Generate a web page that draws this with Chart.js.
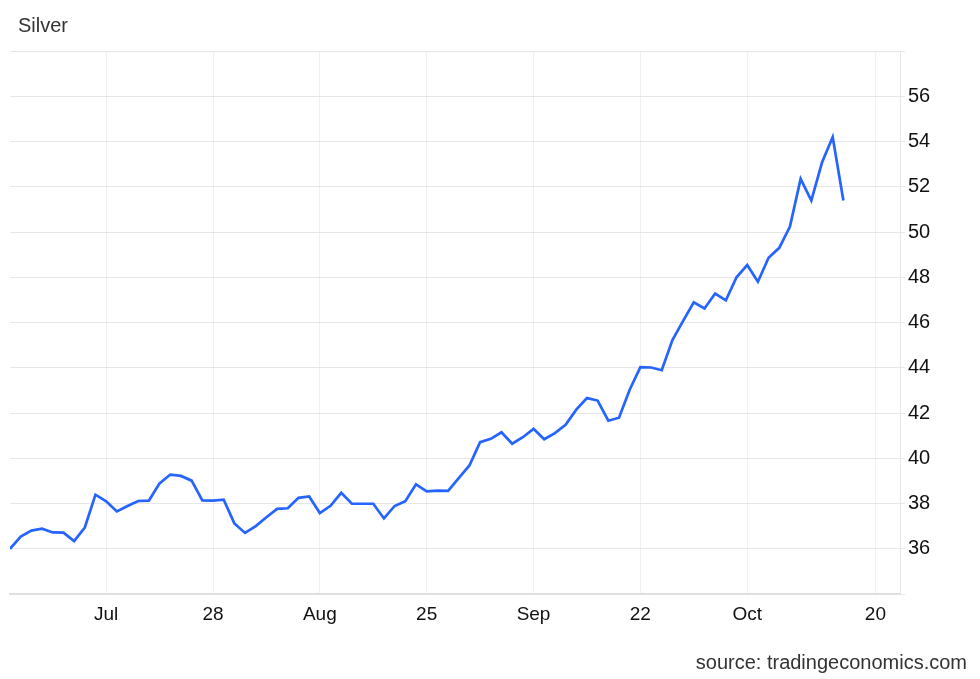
<!DOCTYPE html>
<html>
<head>
<meta charset="utf-8">
<script src="https://cdn.jsdelivr.net/npm/chart.js@4"></script>
<style>
  html, body { margin: 0; padding: 0; background: #fff; }
  #wrap { position: relative; width: 980px; height: 679px; }
  #title { position: absolute; left: 18px; top: 14px; font: 20px "Liberation Sans", Arial, sans-serif; color: #333; }
  #source { position: absolute; right: 13px; top: 651px; font: 20px "Liberation Sans", Arial, sans-serif; color: #333; }
  canvas { position: absolute; left: 0; top: 0; }
</style>
</head>
<body>
<div id="wrap">
  <canvas id="c" width="980" height="679"></canvas>
  <div id="title">Silver</div>
  <div id="source">source: tradingeconomics.com</div>
</div>
<script>
// Silver price, trading days from early July to Oct 17
const silverPrices = [
  36.00, 36.54, 36.80, 36.89, 36.72, 36.71, 36.34, 36.94, 38.39, 38.10,
  37.65, 37.89, 38.11, 38.13, 38.89, 39.28, 39.22, 39.01, 38.14, 38.13,
  38.17, 37.12, 36.70, 37.00, 37.39, 37.76, 37.79, 38.25, 38.31, 37.58,
  37.90, 38.47, 37.99, 37.99, 37.99, 37.34, 37.89, 38.10, 38.85, 38.54,
  38.57, 38.56, 39.12, 39.68, 40.71, 40.86, 41.15, 40.64, 40.93, 41.30,
  40.84, 41.11, 41.48, 42.15, 42.66, 42.55, 41.66, 41.79, 43.03, 44.03,
  44.01, 43.89, 45.22, 46.07, 46.89, 46.62, 47.28, 46.98, 48.00, 48.54,
  47.80, 48.86, 49.30, 50.24, 52.35, 51.39, 53.07, 54.20, 51.39
];
// x-axis tick labels and their positions (in trading-day index units)
const xTickLabels = ["Jul", "28", "Aug", "25", "Sep", "22", "Oct", "20"];
const xTickIndex  = [9, 19, 29, 39, 49, 59, 69, 81];
const yMin = 34, yMax = 58, yStep = 2;
const xMax = 83.3;

const points = silverPrices.map((v, i) => ({ x: i, y: v }));
const FONT = "'Liberation Sans', Arial, sans-serif";

new Chart(document.getElementById('c'), {
  type: 'line',
  data: {
    datasets: [{
      data: points,
      borderColor: 'rgb(37,100,255)',
      borderWidth: 2.7,
      pointRadius: 0,
      tension: 0,
      fill: false
    }]
  },
  options: {
    responsive: false,
    animation: false,
    layout: { padding: { left: 10, top: 51, right: 0, bottom: 0 } },
    plugins: { legend: { display: false }, tooltip: { enabled: false }, title: { display: false } },
    scales: {
      x: {
        type: 'linear',
        min: 0,
        max: xMax,
        afterBuildTicks: (axis) => { axis.ticks = xTickIndex.map(v => ({ value: v })); },
        afterFit: (axis) => { axis.height = 85; },
        ticks: {
          autoSkip: false,
          maxRotation: 0,
          padding: 9,
          color: '#111',
          font: { family: FONT, size: 19 },
          callback: (val) => { const k = xTickIndex.indexOf(val); return k >= 0 ? xTickLabels[k] : ''; }
        },
        grid: { color: '#edf1f6', lineWidth: 1, drawTicks: false },
        border: { display: true, color: '#dcdcdc', width: 1.5 }
      },
      y: {
        position: 'right',
        min: yMin,
        max: yMax,
        afterFit: (axis) => { axis.width = 80; },
        ticks: {
          stepSize: yStep,
          padding: 3,
          color: '#111',
          font: { family: FONT, size: 20 },
          callback: (v) => (v === yMin || v === yMax) ? '' : String(v)
        },
        grid: { color: '#e6e6e6', lineWidth: 1, tickLength: 5 },
        border: { display: true, color: '#e6e6e6', width: 1 }
      }
    }
  }
});
</script>
</body>
</html>
